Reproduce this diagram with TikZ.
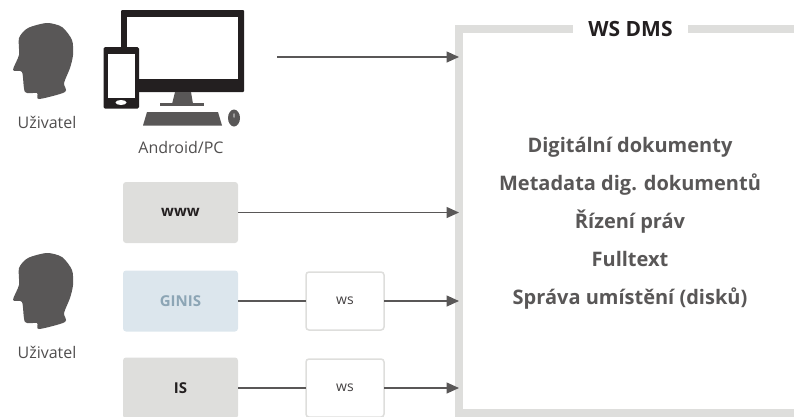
\documentclass[tikz,border=0pt]{standalone}
\usepackage{fontspec}
\setmainfont{Open Sans}
\usetikzlibrary{arrows.meta, positioning}
\definecolor{tmava}{HTML}{595757}
\definecolor{seda}{HTML}{DEDEDC}
\definecolor{modra}{HTML}{DCE6ED}
\definecolor{modratext}{HTML}{8CA5B5}
\definecolor{cerna}{HTML}{231F20}
\tikzset{
  blok/.style={rectangle, rounded corners=3pt, outer sep=0pt, minimum width=115pt, minimum height=61pt, fill=seda, text=cerna, font=\fontsize{15}{17}\selectfont\bfseries},
  wsblok/.style={rectangle, rounded corners=3pt, outer sep=0pt, minimum width=78pt, minimum height=58pt, draw=seda, line width=1.5pt, fill=white, text=cerna!85, font=\fontsize{14}{16}\selectfont},
  popis/.style={text=tmava!90!black, font=\fontsize{16}{18}\selectfont},
  spoj/.style={tmava, line width=1.5pt},
  sipka/.style={spoj, -{Triangle[length=12.5pt, width=11pt]}},
  hlava/.pic={\fill[tmava] plot[smooth cycle, tension=0.45] coordinates {(47,23) (62,27) (72,40) (73,55) (70,68) (64,83) (65,92) (39,99) (37,93) (25,92) (22,72) (13,70) (19,55) (19,38) (28,28)};}
}
\begin{document}
\begin{tikzpicture}[x=1pt, y=-1pt]
\clip (0,0) rectangle (794,416);
% Ramecek sluzby
\node (dms) at (634.5,221) [draw=seda, line width=8pt, outer sep=0pt, minimum width=351pt, minimum height=384pt] {};
\node (nazev) at (630.5,29) [fill=white, inner xsep=15pt, inner ysep=2pt, text=cerna, font=\fontsize{21}{24}\selectfont\bfseries] {WS DMS};
\node (obsah) at (630,223) [align=center, text=tmava, font=\fontsize{20}{38}\selectfont\bfseries] {Digitální dokumenty\\Metadata dig. dokumentů\\Řízení práv\\Fulltext\\Správa umístění (disků)};

% Uzivatele
\pic at (0,0) {hlava};
\node (uzivatelA) at (47,122) [popis] {Uživatel};
\pic at (0,230) {hlava};
\node (uzivatelB) at (47,352) [popis] {Uživatel};

% Monitor a telefon
\fill[cerna, rounded corners=1pt] (121,10) rectangle (244,92);
\fill[white] (127,17) rectangle (238,79);
\fill[tmava] (175,92) -- (191,92) -- (193,104) -- (172,104) -- cycle;
\fill[tmava] (160,103) rectangle (204,105.5);
\fill[tmava] (147,112) -- (218,112) -- (222,125.5) -- (143,125.5) -- cycle;
\fill[tmava] (234,118) ellipse (6pt and 8.5pt);
\fill[tmava!60] (234,115.5) ellipse (1pt and 2.5pt);
\fill[cerna, rounded corners=1.5pt] (103.5,47) rectangle (139,108.5);
\fill[white] (107.5,53.5) rectangle (135,97.5);
\fill[white] (121,102.5) ellipse (5.5pt and 2.5pt);
\node (zarizeni) at (181,147) [popis] {Android/PC};
\coordinate (start) at (277,57);

% Bloky
\node (www) at (180.5,212.5) [blok] {www};
\node (ginis) [below=27.5pt of www, blok, fill=modra, text=modratext] {GINIS};
\node (is) [below=26pt of ginis, blok] {IS};
\node (wsA) [right=68pt of ginis, wsblok] {ws};
\node (wsB) [right=68pt of is, wsblok] {ws};

% Sipky
\draw[sipka] (start) -- (start -| dms.west);
\draw[sipka] (www) -- (www -| dms.west);
\draw[spoj] (ginis) -- (wsA);
\draw[sipka] (wsA) -- (wsA -| dms.west);
\draw[spoj] (is) -- (wsB);
\draw[sipka] (wsB) -- (wsB -| dms.west);
\end{tikzpicture}
\end{document}
